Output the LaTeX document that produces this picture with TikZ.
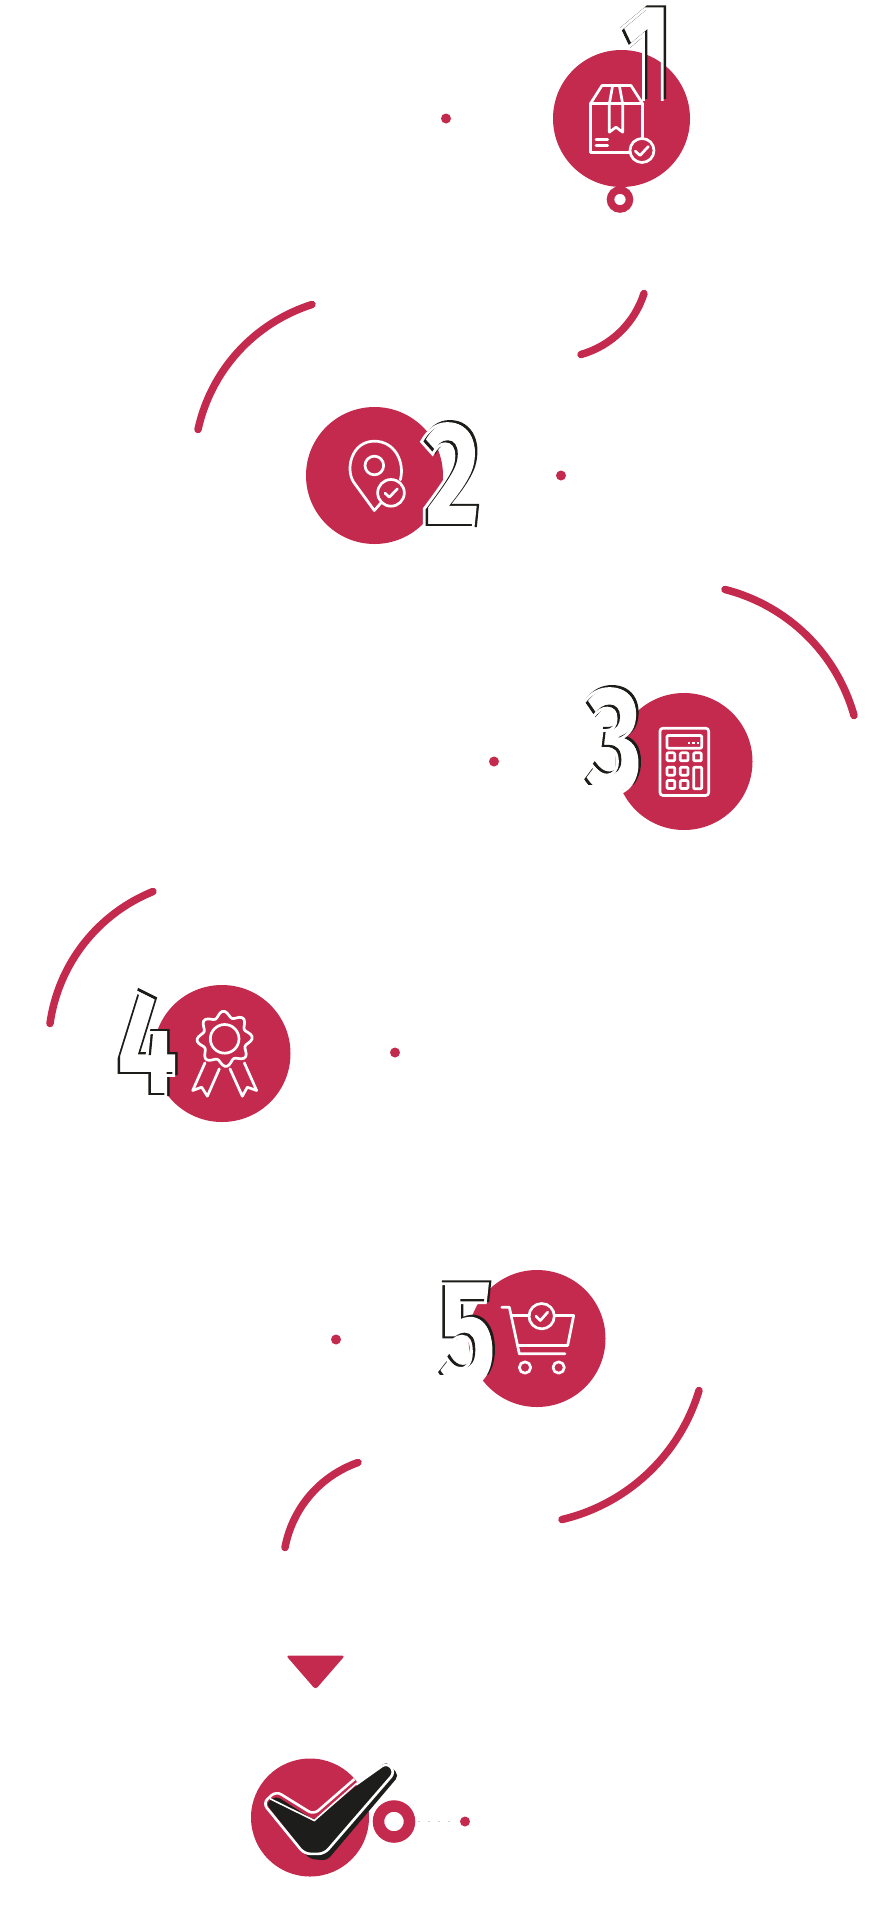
\documentclass[tikz,border=0pt]{standalone}
\usepackage{fontspec}
\newfontfamily\digitfont[FakeStretch=0.72]{Fira Sans ExtraBold}
\definecolor{brand}{HTML}{C42A4D}
\definecolor{ink}{HTML}{1D1D1B}
\definecolor{dotgray}{HTML}{D0D0D0}
\newcommand{\strokedtext}[3]{\special{pdf:code 1 Tr #1 w #2 RG}\digitfont #3\special{pdf:code 0 Tr}}
% x, baseline y, char, clip y of black, clip y of white, name
\newcommand{\numberoutline}[6]{%
  \begin{scope}
    \clip (#1-60,#4-130) rectangle (#1+60,#4);
    \node[digit] (#6k) at (#1,#2) {\strokedtext{3}{0.11 0.11 0.1}{#3}};
  \end{scope}
  \begin{scope}
    \clip (#1-60,#5-130) rectangle (#1+60,#5);
    \node[digit] (#6w) at (#1-2.4,#2+2) {\strokedtext{2.8}{1 1 1}{#3}};
  \end{scope}
}
\tikzset{
  x=1pt,y=-1pt,
  disc/.style={fill=brand,draw=none},
  digit/.style={anchor=base,inner sep=0pt,outer sep=0pt,font=\digitfont\fontsize{150}{150}\selectfont},
  arcline/.style={draw=brand,line width=7.5pt,line cap=round,looseness=0.915},
  ico/.style={draw=white,line width=2.7pt,line join=round,line cap=round},
}
\begin{document}
\begin{tikzpicture}
\useasboundingbox (-1,-0.5) rectangle (880,1905.5);
% discs
\fill[disc] (620.5,118) circle (68.5);
\fill[disc] (373.5,475) circle (68.5);
\fill[disc] (683,761) circle (68.5);
\fill[disc] (221,1053) circle (68.5);
\fill[disc] (536,1338) circle (68.5);
\fill[disc] (309,1817) circle (59);
% small dots
\foreach \px/\py in {445/118,560/475,493/761,394/1052,335/1339,464/1821}
  \fill[disc] (\px,\py) circle (5);
% rings
\draw[brand,line width=7.5pt] (619,199) circle (9.5);
\draw[brand,line width=11.5pt] (393,1821) circle (15.5);
% dotted
\foreach \px in {418,428,438,448}
  \fill[dotgray] (\px-1.2,1820.3) rectangle (\px+1.2,1821.7);
% arcs
\coordinate (a1s) at (643,293); \coordinate (a1e) at (580,354);
\coordinate (a2s) at (311,304); \coordinate (a2e) at (197,429);
\coordinate (a3s) at (724,589); \coordinate (a3e) at (853,715);
\coordinate (a4s) at (152,891); \coordinate (a4e) at (49,1023);
\coordinate (a5s) at (698,1390); \coordinate (a5e) at (561,1519);
\coordinate (a6s) at (357,1462); \coordinate (a6e) at (284,1547);
\draw[arcline] (a1s) to[bend left=28] (a1e);
\draw[arcline] (a2s) to[bend right=30] (a2e);
\draw[arcline] (a3s) to[bend left=30] (a3e);
\draw[arcline] (a4s) to[bend right=30] (a4e);
\draw[arcline] (a5s) to[bend left=30] (a5e);
\draw[arcline] (a6s) to[bend right=30] (a6e);
% triangle
\fill[brand,rounded corners=3pt] (285,1655) -- (344,1655) -- (314.5,1689) -- cycle;
% white fill of digits 2-5
\node[digit,text=white] (f2) at (451,525) {\digitfont 2};
\node[digit,text=white] (f3) at (613,790) {\digitfont 3};
\node[digit,text=white] (f4) at (146,1094) {\digitfont 4};
\node[digit,text=white] (f5) at (466,1383) {\digitfont 5};
% digit outlines
\numberoutline{646}{108}{1}{98}{100}{d1}
\numberoutline{451}{525}{2}{530}{530}{d2}
\numberoutline{613}{790}{3}{784}{800}{d3}
\numberoutline{146}{1094}{4}{1098}{1100}{d4}
\numberoutline{466}{1383}{5}{1374}{1390}{d5}
% box icon
\begin{scope}[shift={(540,0)},x=0.33333pt,y=-0.33333pt]
\draw[ico] (265,455) -- (148,455) -- (148,310) -- (305,310) -- (305,410);
\draw[ico] (148,310) -- (183,255) -- (270,255) -- (305,310);
\draw[ico] (205,310) -- (215,255) (245,310) -- (235,255);
\draw[ico] (205,310) -- (205,395) -- (225,380) -- (245,395) -- (245,310);
\draw[ico] (165,418) -- (200,418) (165,435) -- (200,435);
\draw[ico] (303,450) circle (36);
\draw[ico] (283,452) -- (297,465) -- (322,438);
\end{scope}
% pin icon
\begin{scope}[shift={(294,400)},x=0.33333pt,y=-0.33333pt]
\draw[ico] (258,307) -- (238,330) -- (176,245) .. controls (150,205) and (170,122) .. (238,122) .. controls (300,122) and (330,185) .. (316,238);
\draw[ico] (238,195) circle (28);
\draw[ico] (288,277) circle (40);
\draw[ico] (270,278) -- (283,290) -- (307,265);
\end{scope}
% calculator icon
\begin{scope}[shift={(570,680)},x=0.33333pt,y=-0.33333pt]
\draw[ico,rounded corners=3pt] (267,143) rectangle (413,345);
\draw[ico,rounded corners=1pt] (288,165) rectangle (392,203);
\foreach \kx/\ky in {288/217,328/217,368/217,288/260,328/260,288/300,328/300}
  \draw[ico,rounded corners=1pt] (\kx,\ky) rectangle (\kx+23,\ky+24);
\draw[ico,rounded corners=1pt] (368,260) rectangle (392,325);
\foreach \dx in {353,367,381} \fill[white] (\dx-3.5,184) rectangle (\dx+3.5,191);
\end{scope}
% rosette icon
\begin{scope}[shift={(109,975)},x=0.33333pt,y=-0.33333pt]
\draw[ico] plot[domain=0:355,samples=72,smooth cycle] ({344+(74+9*cos(8*\x+22.5))*cos(\x)},{190+(74+9*cos(8*\x+22.5))*sin(\x)});
\draw[ico] (344,190) circle (43);
\draw[ico] (285,262) -- (248,345) -- (275,335) -- (292,362) -- (328,280);
\draw[ico] (403,262) -- (440,345) -- (412,335) -- (397,362) -- (360,280);
\end{scope}
% cart icon
\begin{scope}[shift={(430,1265)},x=0.33333pt,y=-0.33333pt]
\draw[ico] (212,125) -- (235,125) -- (265,265) -- (402,265);
\draw[ico] (243,150) -- (295,150) (372,150) -- (428,150) -- (410,240) -- (260,240);
\draw[ico] (332,152) circle (38);
\draw[ico] (315,152) -- (328,165) -- (350,140);
\draw[ico] (282,306) circle (17);
\draw[ico] (383,306) circle (17);
\end{scope}
% final check mark
\begin{scope}[shift={(240,1640)},x=0.33333pt,y=-0.33333pt]
\fill[ink,rounded corners=5pt] (74,488) -- (105,466) -- (220,540) -- (436,362) -- (474,405) -- (258,660) -- (205,655) -- cycle;
\draw[white,line width=1.6pt,line cap=round] (88,475) -- (220,540) -- (345,430);
\draw[white,line width=2.6pt,rounded corners=6pt,line join=round] (340,416) -- (218,522) -- (105,452) -- (66,488) -- (190,640) -- (250,640) -- (462,395) -- (438,366) -- (345,432);
\end{scope}
\end{tikzpicture}
\end{document}
